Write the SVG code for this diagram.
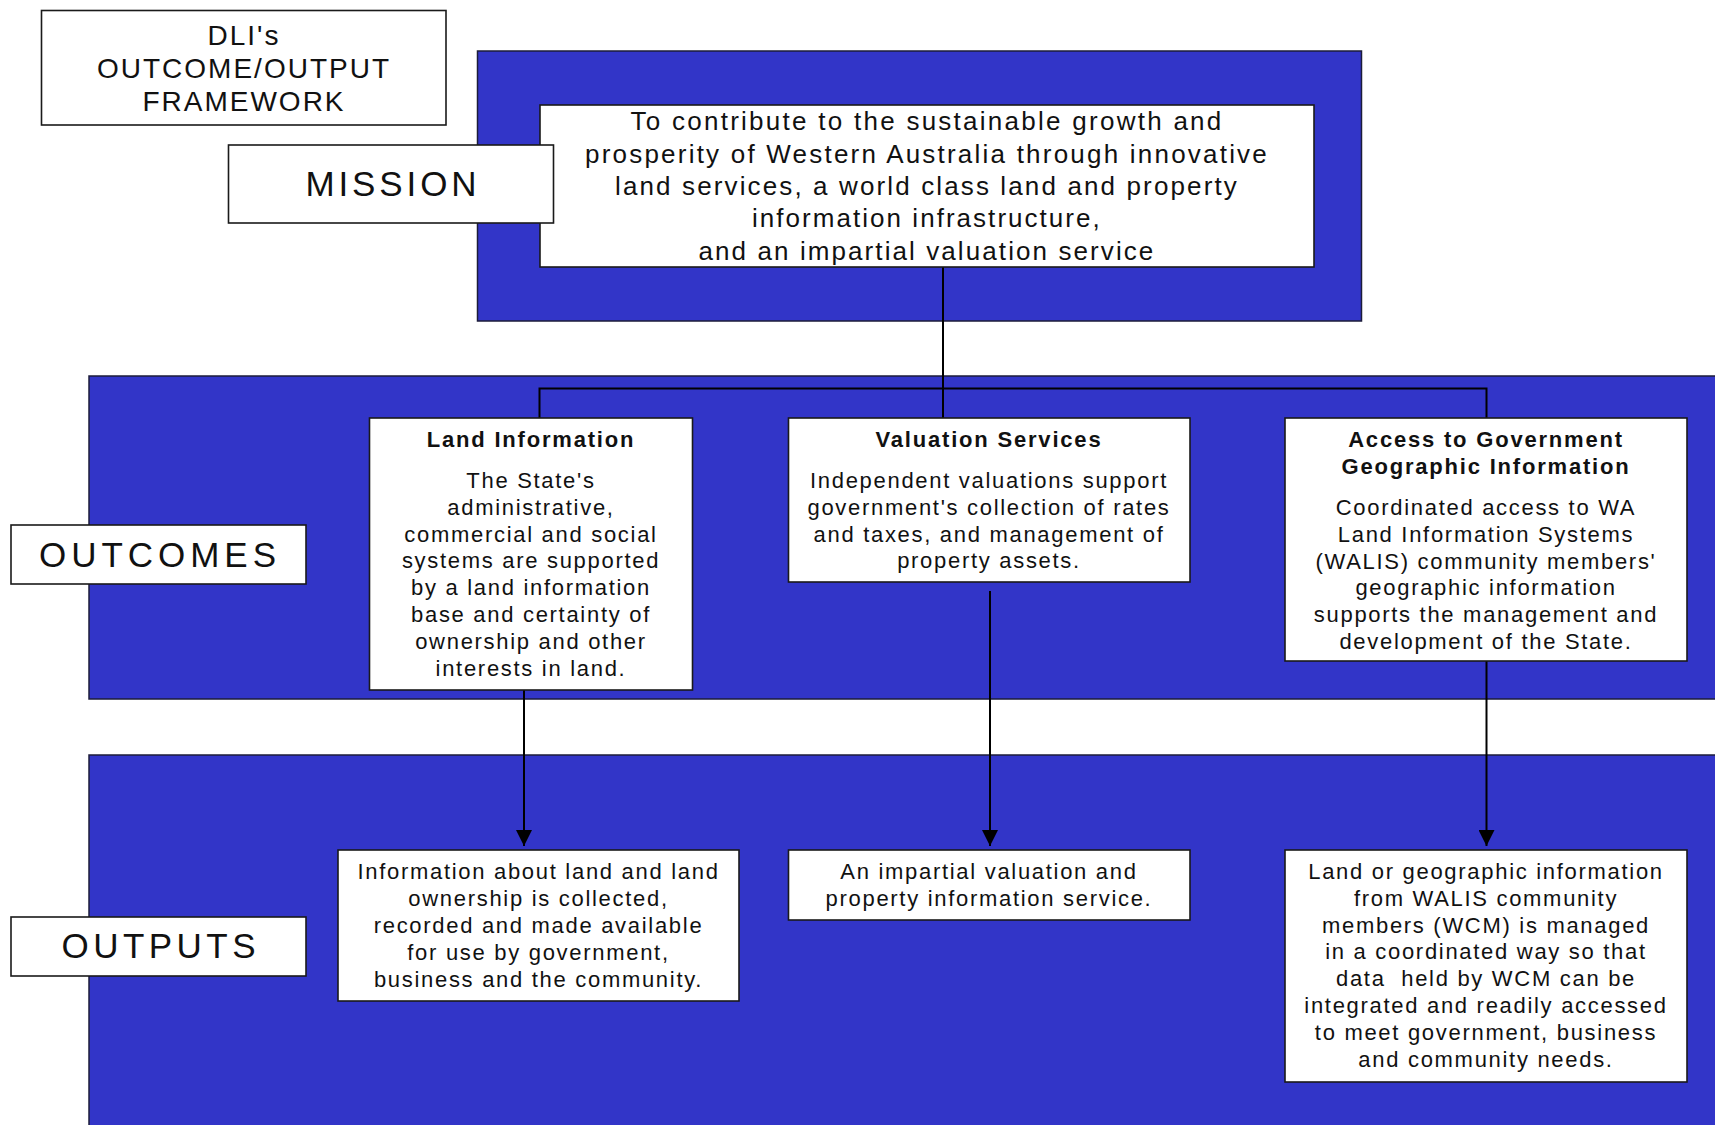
<svg xmlns="http://www.w3.org/2000/svg" width="1715" height="1125" viewBox="0 0 1715 1125">
  <style>
    .band { fill: #3235C8; stroke: #1c1c3a; stroke-width: 1.5; }
    .box { fill: #ffffff; stroke: #1a1a1a; stroke-width: 1.6; }
    text { font-family: "Liberation Sans", Arial, sans-serif; fill: #111; text-anchor: middle; }
    .head { font-size: 28px; letter-spacing: 2px; }
    .label { font-size: 35px; }
    .mission { font-size: 26px; letter-spacing: 2.2px; }
    .title { font-size: 22px; font-weight: bold; letter-spacing: 1.8px; }
    .body { font-size: 22px; letter-spacing: 1.7px; }
    .link { fill: none; stroke: #000; stroke-width: 2; }
  </style>
  <defs>
    <marker id="arrow" markerUnits="userSpaceOnUse" viewBox="0 0 16 16" refX="16" refY="8" markerWidth="16" markerHeight="16" orient="auto">
      <path d="M0,0 L16,8 L0,16 z" fill="#000"/>
    </marker>
  </defs>

  <rect width="1715" height="1125" fill="#ffffff"/>

  <!-- background bands -->
  <g id="bands">
    <rect id="mission-band" class="band" x="477.5" y="51" width="884" height="270"/>
    <rect id="outcomes-band" class="band" x="89" y="376" width="1640" height="323"/>
    <rect id="outputs-band" class="band" x="89" y="755" width="1640" height="385"/>
  </g>

  <!-- title -->
  <g id="framework-title">
    <rect class="box" x="41.5" y="10.5" width="404.5" height="114.5"/>
    <text class="head" x="244" y="45">DLI's</text>
    <text class="head" x="244" y="77.5">OUTCOME/OUTPUT</text>
    <text class="head" x="244" y="111">FRAMEWORK</text>
  </g>

  <!-- connectors -->
  <g id="connectors">
    <line class="link" x1="943" y1="267" x2="943" y2="418"/>
    <polyline class="link" points="539.5,418 539.5,388.5 1486.5,388.5 1486.5,418"/>
    <line class="link" x1="524" y1="690" x2="524" y2="846" marker-end="url(#arrow)"/>
    <line class="link" x1="990" y1="591" x2="990" y2="846" marker-end="url(#arrow)"/>
    <line class="link" x1="1486.5" y1="661" x2="1486.5" y2="846" marker-end="url(#arrow)"/>
  </g>

  <!-- mission -->
  <g id="mission">
    <rect class="box" x="540" y="105" width="774" height="162"/>
    <text class="mission" x="927" y="130" textLength="593" lengthAdjust="spacing">To contribute to the sustainable growth and</text>
    <text class="mission" x="927" y="162.5" textLength="684" lengthAdjust="spacing">prosperity of Western Australia through innovative</text>
    <text class="mission" x="927" y="195" textLength="624" lengthAdjust="spacing">land services, a world class land and property</text>
    <text class="mission" x="927" y="227" textLength="350" lengthAdjust="spacing">information infrastructure,</text>
    <text class="mission" x="927" y="260" textLength="457" lengthAdjust="spacing">and an impartial valuation service</text>
  </g>
  <g id="mission-label">
    <rect class="box" x="228.5" y="145" width="325" height="78"/>
    <text class="label" x="391" y="196" textLength="171" lengthAdjust="spacing">MISSION</text>
  </g>

  <!-- outcomes -->
  <g id="outcomes-label">
    <rect class="box" x="11" y="525" width="295" height="59"/>
    <text class="label" x="157.5" y="566.5" textLength="237" lengthAdjust="spacing">OUTCOMES</text>
  </g>
  <g id="outcome-land">
    <rect class="box" x="369.5" y="418" width="323" height="272"/>
    <text class="title" x="531" y="447">Land Information</text>
    <text class="body" x="531" y="488">The State's</text>
    <text class="body" x="531" y="514.8">administrative,</text>
    <text class="body" x="531" y="541.6">commercial and social</text>
    <text class="body" x="531" y="568.4">systems are supported</text>
    <text class="body" x="531" y="595.2">by a land information</text>
    <text class="body" x="531" y="622">base and certainty of</text>
    <text class="body" x="531" y="648.8">ownership and other</text>
    <text class="body" x="531" y="675.6">interests in land.</text>
  </g>
  <g id="outcome-valuation">
    <rect class="box" x="788.5" y="418" width="401.5" height="164"/>
    <text class="title" x="989" y="447">Valuation Services</text>
    <text class="body" x="989" y="488">Independent valuations support</text>
    <text class="body" x="989" y="514.8">government's collection of rates</text>
    <text class="body" x="989" y="541.6">and taxes, and management of</text>
    <text class="body" x="989" y="568.4">property assets.</text>
  </g>
  <g id="outcome-access">
    <rect class="box" x="1285" y="418" width="402" height="243"/>
    <text class="title" x="1486" y="447">Access to Government</text>
    <text class="title" x="1486" y="474">Geographic Information</text>
    <text class="body" x="1486" y="515">Coordinated access to WA</text>
    <text class="body" x="1486" y="541.8">Land Information Systems</text>
    <text class="body" x="1486" y="568.6">(WALIS) community members'</text>
    <text class="body" x="1486" y="595.4">geographic information</text>
    <text class="body" x="1486" y="622.2">supports the management and</text>
    <text class="body" x="1486" y="649">development of the State.</text>
  </g>

  <!-- outputs -->
  <g id="outputs-label">
    <rect class="box" x="11" y="917" width="295" height="59"/>
    <text class="label" x="158.5" y="957.5" textLength="194" lengthAdjust="spacing">OUTPUTS</text>
  </g>
  <g id="output-land">
    <rect class="box" x="338" y="850" width="401" height="151"/>
    <text class="body" x="538.5" y="879">Information about land and land</text>
    <text class="body" x="538.5" y="906">ownership is collected,</text>
    <text class="body" x="538.5" y="933">recorded and made available</text>
    <text class="body" x="538.5" y="960">for use by government,</text>
    <text class="body" x="538.5" y="987">business and the community.</text>
  </g>
  <g id="output-valuation">
    <rect class="box" x="788.5" y="850" width="401.5" height="70"/>
    <text class="body" x="989" y="879">An impartial valuation and</text>
    <text class="body" x="989" y="906">property information service.</text>
  </g>
  <g id="output-access">
    <rect class="box" x="1285" y="850" width="402" height="232"/>
    <text class="body" x="1486" y="879">Land or geographic information</text>
    <text class="body" x="1486" y="905.8">from WALIS community</text>
    <text class="body" x="1486" y="932.6">members (WCM) is managed</text>
    <text class="body" x="1486" y="959.4">in a coordinated way so that</text>
    <text class="body" x="1486" y="986.2" xml:space="preserve">data  held by WCM can be</text>
    <text class="body" x="1486" y="1013">integrated and readily accessed</text>
    <text class="body" x="1486" y="1039.8">to meet government, business</text>
    <text class="body" x="1486" y="1066.6">and community needs.</text>
  </g>
</svg>
